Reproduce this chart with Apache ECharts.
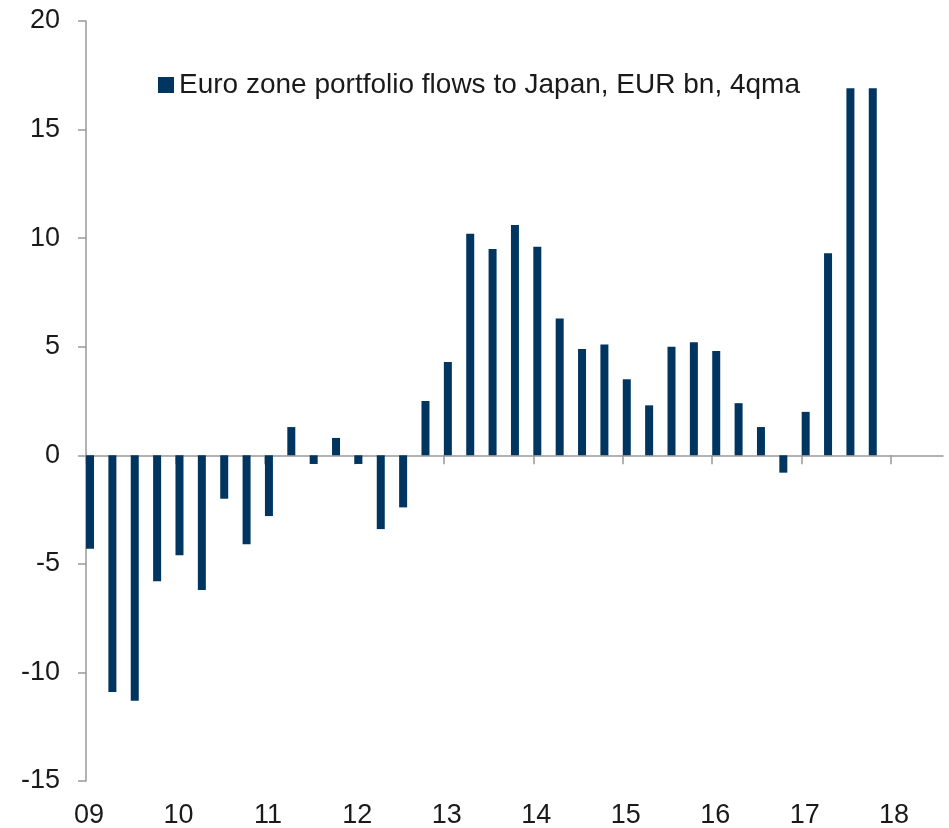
<!DOCTYPE html>
<html>
<head>
<meta charset="utf-8">
<title>Euro zone portfolio flows to Japan</title>
<script src="https://cdn.jsdelivr.net/npm/echarts@6/dist/echarts.min.js"></script>
<style>
	html, body { margin: 0; padding: 0; background: #fff; }
	#chart { width: 949px; height: 828px; }
</style>
</head>
<body>
<div id="chart"></div>
<script>
var SERIES_NAME = 'Euro zone portfolio flows to Japan, EUR bn, 4qma';
var quarters = [
	'2009Q1','2009Q2','2009Q3','2009Q4',
	'2010Q1','2010Q2','2010Q3','2010Q4',
	'2011Q1','2011Q2','2011Q3','2011Q4',
	'2012Q1','2012Q2','2012Q3','2012Q4',
	'2013Q1','2013Q2','2013Q3','2013Q4',
	'2014Q1','2014Q2','2014Q3','2014Q4',
	'2015Q1','2015Q2','2015Q3','2015Q4',
	'2016Q1','2016Q2','2016Q3','2016Q4',
	'2017Q1','2017Q2','2017Q3','2017Q4'
];
var flows = [
	-4.3, -10.9, -11.3, -5.8,
	-4.6, -6.2, -2.0, -4.1,
	-2.8, 1.3, -0.4, 0.8,
	-0.4, -3.4, -2.4, 2.5,
	4.3, 10.2, 9.5, 10.6,
	9.6, 6.3, 4.9, 5.1,
	3.5, 2.3, 5.0, 5.2,
	4.8, 2.4, 1.3, -0.8,
	2.0, 9.3, 16.9, 16.9
];
var years = [2009, 2010, 2011, 2012, 2013, 2014, 2015, 2016, 2017, 2018];
var yearLabels = ['09', '10', '11', '12', '13', '14', '15', '16', '17', '18'];
var yTicks = [-15, -10, -5, 0, 5, 10, 15, 20];

var X_MIN = 2009;
var X_MAX = 2018.58;
var BAR_SHIFT = 0.045;	// bars sit a little right of the quarter start
var TEXT_COLOR = '#1a1a1a';
var AXIS_COLOR = '#999';
var BAR_COLOR = '#003560';
var FONT = 'Liberation Sans, Arial, sans-serif';

// '2013Q2' -> 2013.25
function quarterToPos(q) {
	var y = parseInt(q.substr(0, 4));
	var n = parseInt(q.substr(5, 1));
	return y + (n - 1) / 4;
}

function buildBarData() {
	var arr = [];
	for(var i=0; i<quarters.length; i++) {
		arr.push([quarterToPos(quarters[i]), flows[i]]);
	}
	return arr;
}

function yearLabel(v) {
	var idx = years.indexOf(Math.round(v));
	if(idx == -1 || Math.abs(v - Math.round(v)) > 0.001) return '';
	return yearLabels[idx];
}

var chart = echarts.init(document.getElementById('chart'));
var option = {
	animation: false,
	backgroundColor: '#fff',
	textStyle: { fontFamily: FONT },
	grid: {
		left: 86,
		right: 6,
		top: 21,
		bottom: 47,
		containLabel: false,
		outerBoundsMode: 'none'
	},
	legend: {
		left: 153,
		top: 66,
		icon: 'rect',
		itemWidth: 16,
		itemHeight: 16,
		selectedMode: false,
		data: [SERIES_NAME],
		textStyle: {
			fontSize: 28,
			color: TEXT_COLOR,
			fontFamily: FONT
		}
	},
	xAxis: [{
		// zero line with year ticks
		type: 'value',
		min: X_MIN,
		max: X_MAX,
		interval: 1,
		axisLine: { onZero: true, lineStyle: { color: AXIS_COLOR, width: 1.5 } },
		axisTick: { show: true, length: 9, inside: false, customValues: years, lineStyle: { color: AXIS_COLOR, width: 1.5 } },
		axisLabel: { show: false },
		splitLine: { show: false }
	}, {
		// year labels along the bottom
		type: 'value',
		position: 'bottom',
		min: X_MIN,
		max: X_MAX,
		interval: 1,
		axisLine: { show: false, onZero: false },
		axisTick: { show: false },
		axisLabel: {
			show: true,
			customValues: years,
			margin: 21,
			fontSize: 27,
			color: TEXT_COLOR,
			fontFamily: FONT,
			padding: [0, 0, 0, 6],
			formatter: yearLabel
		},
		splitLine: { show: false }
	}, {
		// hidden axis carrying the bars, shifted right a bit
		type: 'value',
		show: false,
		min: X_MIN - BAR_SHIFT,
		max: X_MAX - BAR_SHIFT
	}],
	yAxis: {
		type: 'value',
		min: -15,
		max: 20,
		interval: 5,
		axisLine: { show: true, onZero: false, lineStyle: { color: AXIS_COLOR, width: 1.5 } },
		axisTick: { show: true, length: 8, inside: false, lineStyle: { color: AXIS_COLOR, width: 1.5 } },
		axisLabel: {
			margin: 26,
			fontSize: 27,
			color: TEXT_COLOR,
			fontFamily: FONT,
			formatter: function(v) {
				return yTicks.indexOf(v) != -1 ? String(v) : '';
			}
		},
		splitLine: { show: false }
	},
	series: [{
		name: SERIES_NAME,
		type: 'bar',
		xAxisIndex: 2,
		barWidth: 8,
		itemStyle: { color: BAR_COLOR },
		data: buildBarData()
	}]
};
chart.setOption(option);
</script>
</body>
</html>
